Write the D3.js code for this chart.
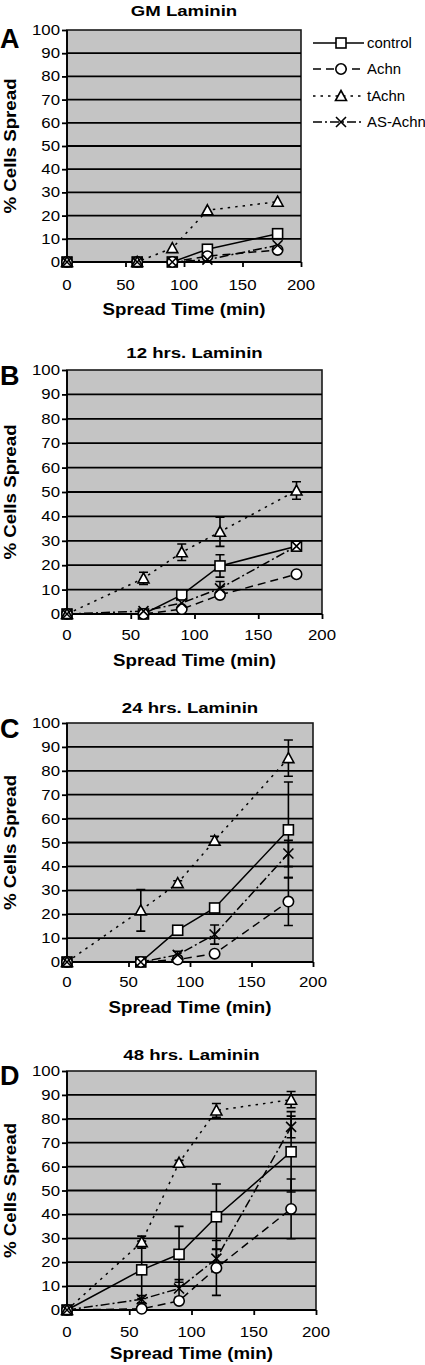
<!DOCTYPE html>
<html><head><meta charset="utf-8">
<script src="https://cdn.jsdelivr.net/npm/d3@7"></script>
<style>body{margin:0;background:#fff}svg{display:block;font-family:Arial,"Liberation Sans",sans-serif}</style>
</head><body><svg id="c" width="425" height="1365"></svg>
<script>
const times=[0,60,90,120,180];
const seriesNames=["control","Achn","tAchn","AS-Achn"];
const panelTitles=["GM Laminin","12 hrs. Laminin","24 hrs. Laminin","48 hrs. Laminin"];
const panelLetters=["A","B","C","D"];
const xTicks=[0,50,100,150,200];
const yTicks=[0,10,20,30,40,50,60,70,80,90,100];
const xTitle="Spread Time (min)";
const yTitle="% Cells Spread";

// one row per panel (A,B,C,D), one value per time point
const controlValues=[[0,0,0,5.5,12.2],[0,0,7.8,19.7,27.8],[0,0,13.3,22.6,55.3],[0,16.8,23.3,39,66.2]];
const controlErrors=[[0,0,0,0,0],[0,0,0,4.6,0],[0,0,0,0,20],[0,12,11.7,13.7,16.8]];
const achnValues=[[0,0,0,2.5,5.2],[0,0,2,7.8,16.3],[0,0,1,3.5,25.3],[0,0.5,3.8,17.6,42.3]];
const achnErrors=[[0,0,0,0,0],[0,0,0,0,0],[0,0,0,0,10],[0,0,0,11.5,12.5]];
const tachnValues=[[0,0,6,22.3,26],[0,14.6,25.3,33.7,50.6],[0,21.6,33,50.8,85.3],[0,28.4,61.6,83.5,88]];
const tachnErrors=[[0,0,0,0,0],[0,2.5,3.4,6,3.6],[0,8.7,1,1.8,7.6],[0,2.5,1,2.9,3.4]];
const asAchnValues=[[0,0,0,1,7.2],[0,1.2,4.5,10.5,27.8],[0,0,3,11.5,45.4],[0,4.5,9,21.5,76.6]];
const asAchnErrors=[[0,0,0,0,0],[0,0,0,2.8,0],[0,0,1.5,4,5.5],[0,1.5,3.7,4,4.5]];

const seriesValues=[controlValues,achnValues,tachnValues,asAchnValues];
const seriesErrors=[controlErrors,achnErrors,tachnErrors,asAchnErrors];
const seriesDash=[null,"8,5","2.5,5","9,3,2,3"];
const seriesShape=["square","circle","triangle","cross"];

const layout=[
 {left:67,right:301,top:30,bottom:262,title:16,letter:48,xt:290,xl:315},
 {left:67,right:322,top:370,bottom:614,title:358,letter:385,xt:640,xl:666},
 {left:67,right:313,top:723,bottom:962,title:713,letter:738,xt:987,xl:1013},
 {left:67,right:316,top:1071,bottom:1310,title:1060,letter:1085,xt:1337,xl:1359}
];

const svg=d3.select("#c");

function drawMarker(g,shape,x,y){
  const s=g.append("g").attr("transform",`translate(${x},${y})`)
    .attr("fill","#fff").attr("stroke","#000").attr("stroke-width",1.6);
  if(shape==="square") s.append("rect").attr("x",-5).attr("y",-5).attr("width",10).attr("height",10);
  else if(shape==="circle") s.append("circle").attr("r",5.2);
  else if(shape==="triangle") s.append("path").attr("d","M0,-5.5L5.5,4.5L-5.5,4.5Z");
  else s.append("path").attr("fill","none").attr("d","M-5,-5L5,5M-5,5L5,-5");
}

layout.forEach((L,pi)=>{
  const x=d3.scaleLinear().domain([0,200]).range([L.left,L.right]);
  const y=d3.scaleLinear().domain([0,100]).range([L.bottom,L.top]);
  const g=svg.append("g");
  g.append("rect").attr("x",L.left).attr("y",L.top).attr("width",L.right-L.left).attr("height",L.bottom-L.top)
    .attr("fill","#c4c4c4").attr("stroke","#1a1a1a").attr("stroke-width",1.6);
  // gridlines
  g.selectAll("line.grid").data(yTicks.filter(t=>t>0&&t<100)).join("line")
    .attr("x1",L.left).attr("x2",L.right).attr("y1",d=>y(d)).attr("y2",d=>y(d))
    .attr("stroke","#000").attr("stroke-width",1.8);
  // y axis
  const ya=g.append("g").attr("transform",`translate(${L.left},0)`)
    .call(d3.axisLeft(y).tickValues(yTicks).tickSize(5).tickFormat(""));
  ya.selectAll("line,path").attr("stroke","#000").attr("stroke-width",1.8);
  ya.select("path").attr("d",`M0,${L.top}V${L.bottom}`);
  g.selectAll("text.yt").data(yTicks).join("text")
    .attr("transform",d=>`translate(60,${y(d)+5}) scale(1.2,1)`)
    .attr("text-anchor","end").attr("font-size",14).text(d=>d);
  // x axis
  const xa=g.append("g").attr("transform",`translate(0,${L.bottom})`)
    .call(d3.axisBottom(x).tickValues(xTicks).tickSize(5).tickFormat(""));
  xa.selectAll("line,path").attr("stroke","#000").attr("stroke-width",1.8);
  xa.select("path").attr("d",`M${L.left},0H${L.right}`);
  g.selectAll("text.xt").data(xTicks).join("text")
    .attr("transform",d=>`translate(${x(d)},${L.xt}) scale(1.2,1)`)
    .attr("text-anchor","middle").attr("font-size",14).text(d=>d);
  // titles
  const cx=(L.left+L.right)/2;
  g.append("text").attr("transform",`translate(${cx},${L.title}) scale(1.2,1)`)
    .attr("text-anchor","middle").attr("font-size",15.5).attr("font-weight","bold").text(panelTitles[pi]);
  g.append("text").attr("transform",`translate(${cx},${L.xl}) scale(1.17,1)`)
    .attr("text-anchor","middle").attr("font-size",16).attr("font-weight","bold").text(xTitle);
  g.append("text").attr("transform",`translate(16,${(L.top+L.bottom)/2}) rotate(-90) scale(1.17,1)`)
    .attr("text-anchor","middle").attr("font-size",16).attr("font-weight","bold").text(yTitle);
  g.append("text").attr("x",0).attr("y",L.letter).attr("font-size",27).attr("font-weight","bold").text(panelLetters[pi]);

  const line=d3.line().x(d=>x(d.t)).y(d=>y(d.v));
  const all=seriesNames.map((n,si)=>times.map((t,i)=>({t,v:seriesValues[si][pi][i],e:seriesErrors[si][pi][i]})));
  all.forEach((pts,si)=>{
    g.append("path").attr("d",line(pts)).attr("fill","none").attr("stroke","#000")
      .attr("stroke-width",1.5).attr("stroke-dasharray",seriesDash[si]);
  });
  all.forEach(pts=>{
    pts.filter(p=>p.e>0).forEach(p=>{
      const px=x(p.t),y1=y(p.v+p.e),y2=y(Math.max(0,p.v-p.e));
      g.append("path").attr("d",`M${px},${y1}V${y2}M${px-4.5},${y1}H${px+4.5}M${px-4.5},${y2}H${px+4.5}`)
        .attr("stroke","#000").attr("stroke-width",1.6).attr("fill","none");
    });
  });
  all.forEach((pts,si)=>pts.forEach(p=>drawMarker(g,seriesShape[si],x(p.t),y(p.v))));
});

// legend (panel A)
const legY=[43,69,96,122];
const lg=svg.append("g");
seriesNames.forEach((n,si)=>{
  lg.append("line").attr("x1",313).attr("x2",364).attr("y1",legY[si]).attr("y2",legY[si])
    .attr("stroke","#000").attr("stroke-width",1.5).attr("stroke-dasharray",seriesDash[si]);
  drawMarker(lg,seriesShape[si],341,legY[si]);
  lg.append("text").attr("transform",`translate(367,${legY[si]+5}) scale(1.03,1)`)
    .attr("font-size",14.5).text(n);
});
</script></body></html>
